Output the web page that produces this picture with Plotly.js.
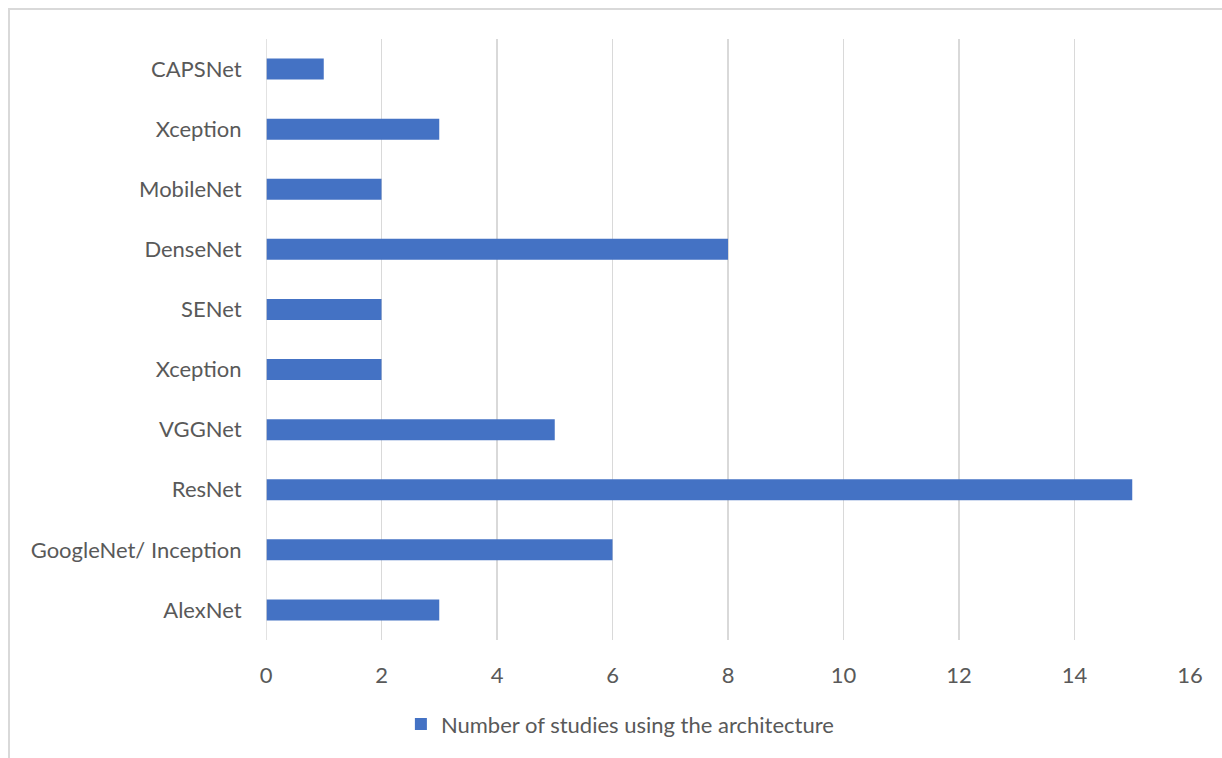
<!DOCTYPE html>
<html>
<head>
<meta charset="utf-8">
<script src="https://cdn.plot.ly/plotly-3.0.1.min.js"></script>
<style>
  html, body { margin: 0; padding: 0; background: #fff; }
  #wrap { position: relative; width: 1222px; height: 758px; }
  #chart { width: 1222px; height: 758px; }
  #frame { position: absolute; left: 8px; top: 8px; width: 1230px; height: 770px;
           border: 2px solid #d9d9d9; box-sizing: border-box; pointer-events: none; }
</style>
</head>
<body>
<div id="wrap">
  <div id="chart"></div>
  <div id="frame"></div>
</div>
<script>
// Bottom to top order
const architectures = ["AlexNet", "GoogleNet/ Inception", "ResNet", "VGGNet", "Xception", "SENet", "DenseNet", "MobileNet", "Xception", "CAPSNet"];
const studyCounts = [3, 6, 15, 5, 2, 2, 8, 2, 3, 1];
const seriesName = "Number of studies using the architecture";
const xTicks = [0, 2, 4, 6, 8, 10, 12, 14, 16];

const positions = architectures.map((_, i) => i);

const font = "Lato, 'Open Sans', 'Liberation Sans', sans-serif";
const fs = 22;

const trace = {
  type: "bar",
  orientation: "h",
  x: studyCounts,
  y: positions,
  name: seriesName,
  width: 0.35,
  marker: { color: "#4472C4" },
  showlegend: true,
  hoverinfo: "x"
};

const layout = {
  width: 1222,
  height: 758,
  margin: { l: 266, r: 32, t: 39, b: 118 },
  paper_bgcolor: "#ffffff",
  plot_bgcolor: "#ffffff",
  font: { family: font, size: fs, color: "#595959" },
  xaxis: {
    range: [0, 16],
    tickvals: xTicks,
    ticktext: xTicks.map(String),
    showgrid: true,
    gridcolor: "#d9d9d9",
    gridwidth: 1.5,
    zeroline: false,
    showline: false,
    ticks: "outside",
    ticklen: 16,
    tickcolor: "rgba(0,0,0,0)",
    tickfont: { family: font, size: fs, color: "#595959" },
    fixedrange: true
  },
  yaxis: {
    range: [-0.5, 9.5],
    tickvals: positions,
    ticktext: architectures,
    showgrid: false,
    zeroline: false,
    showline: false,
    ticks: "outside",
    ticklen: 19,
    tickcolor: "rgba(0,0,0,0)",
    tickfont: { family: font, size: fs, color: "#595959" },
    fixedrange: true
  },
  shapes: [{
    type: "line", xref: "x", yref: "paper",
    x0: 0, x1: 0, y0: 0, y1: 1,
    line: { color: "#d9d9d9", width: 1.5 }
  }],
  showlegend: true,
  legend: {
    orientation: "h",
    itemwidth: 30,
    x: 0.383, xanchor: "center",
    y: -0.14, yanchor: "middle",
    font: { family: font, size: fs, color: "#595959" },
    bgcolor: "rgba(0,0,0,0)"
  },
  bargap: 0.65
};

Plotly.newPlot("chart", [trace], layout, { displayModeBar: false, staticPlot: true });
</script>
</body>
</html>
